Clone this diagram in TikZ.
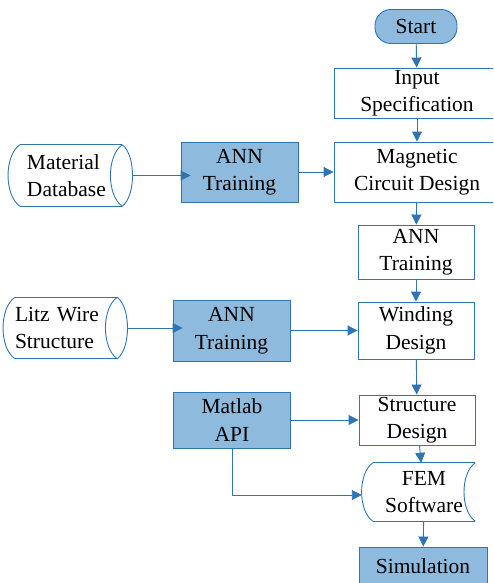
\documentclass[tikz,border=0pt]{standalone}
\usepackage{fontspec}
\setmainfont{Liberation Serif}
\usepackage{tikz}
\usetikzlibrary{positioning, arrows.meta}
\definecolor{flowblue}{RGB}{46,117,182}
\definecolor{flowfill}{RGB}{142,186,222}
\tikzset{
	every node/.append style={
		font=\fontsize{21.5}{27.5}\selectfont,
	},
	process/.append style={
		draw=flowblue,
		line width=0.9pt,
		align = center,
		inner sep=0pt,
	},
	shaded/.append style={
		fill=flowfill,
	},
	terminal/.append style={
		process,
		shaded,
		rounded corners=16pt,
		minimum width=82pt,
		minimum height=34pt
	},
	flow/.append style={
		draw=flowblue,
		line width=0.9pt,
		-{Triangle[length=10pt, width=10pt]}
	},
	% database: top and bottom lines, left side bulging out, right side as a lens
	drum/.append style={
		draw=none,
		inner sep=0pt,
		align=left,
		minimum width=102pt,
		minimum height=61pt,
		append after command={
			[draw=flowblue, line width=0.9pt]
			(\tikzlastnode.north west) edge (\tikzlastnode.north east)
			(\tikzlastnode.south west) edge (\tikzlastnode.south east)
			(\tikzlastnode.north west) edge[out=215, in=145, looseness=0.8] (\tikzlastnode.south west)
			(\tikzlastnode.north east) edge[out=-35, in=35, looseness=0.7] (\tikzlastnode.south east)
			(\tikzlastnode.north east) edge[out=215, in=145, looseness=0.8] (\tikzlastnode.south east)
		}
	},
	% stored data: left side bulging out, right side bulging in
	stored/.append style={
		draw=none,
		inner sep=0pt,
		align=center,
		minimum width=102pt,
		minimum height=58pt,
		append after command={
			[draw=flowblue, line width=0.9pt]
			(\tikzlastnode.north west) edge (\tikzlastnode.north east)
			(\tikzlastnode.south west) edge (\tikzlastnode.south east)
			(\tikzlastnode.north west) edge[out=215, in=145, looseness=0.8] (\tikzlastnode.south west)
			(\tikzlastnode.north east) edge[out=215, in=145, looseness=0.8] (\tikzlastnode.south east)
		}
	}
}

\begin{document}
\begin{tikzpicture}[
	x=1pt, y=1pt,
	every edge/.append style={draw=flowblue, line width=0.9pt}
	]
	\clip (0,0) rectangle (493,-583);

	% main column
	\node[terminal] (start) at (416,-26.5) {Start};
	\node[process, minimum width=166pt, minimum height=50pt] (inp) at (417,-93) {Input\\Specification};
	\node[process, minimum width=166pt, minimum height=60pt] (mag) at (417,-172) {Magnetic\\Circuit Design};
	\node[process, minimum width=116pt, minimum height=54pt] (annc) at (416,-252) {ANN\\Training};
	\node[process, minimum width=116pt, minimum height=57pt] (wind) at (416,-330.5) {Winding\\Design};
	\node[process, minimum width=116pt, minimum height=50pt] (struct) at (417,-420) {Structure\\Design};
	\node[stored, text width=102pt] (fem) at (424,-492) {FEM\\Software};
	\node[process, shaded, minimum width=128pt, minimum height=38pt] (sim) at (423,-566) {Simulation};

	% side inputs
	\node[process, shaded, minimum width=117pt, minimum height=60pt] (anna) at (239.5,-172) {ANN\\Training};
	\node[process, shaded, minimum width=117pt, minimum height=61pt] (annb) at (231.5,-330.5) {ANN\\Training};
	\node[process, shaded, minimum width=117pt, minimum height=56pt] (matlab) at (232,-420) {Matlab\\API};
	\node[drum, text width=88pt] (matdb) at (71,-175.5) {Material\\Database};
	\node[drum, text width=102pt] (litz) at (66,-328) {Litz Wire\\Structure};

	\draw[flow] (start) to (inp);
	\draw[flow] (inp) to (mag);
	\draw[flow] (mag) to (annc);
	\draw[flow] (annc) to (wind);
	\draw[flow] (wind) to (struct);
	\draw[flow] (struct) to (fem);
	\draw[flow] (fem) to (sim);

	\draw[flow] ([xshift=10pt]matdb.east) to ([xshift=10pt]matdb.east -| anna.west);
	\draw[flow] (anna.east) to (anna.east -| mag.west);
	\draw[flow] ([xshift=10pt]litz.east) to ([xshift=10pt]litz.east -| annb.west);
	\draw[flow] (annb.east) to (annb.east -| wind.west);
	\draw[flow] (matlab.east) to (matlab.east -| struct.west);
	\draw[flow] (matlab.south) |- ([xshift=-11pt, yshift=-3pt]fem.west);
\end{tikzpicture}
\end{document}
